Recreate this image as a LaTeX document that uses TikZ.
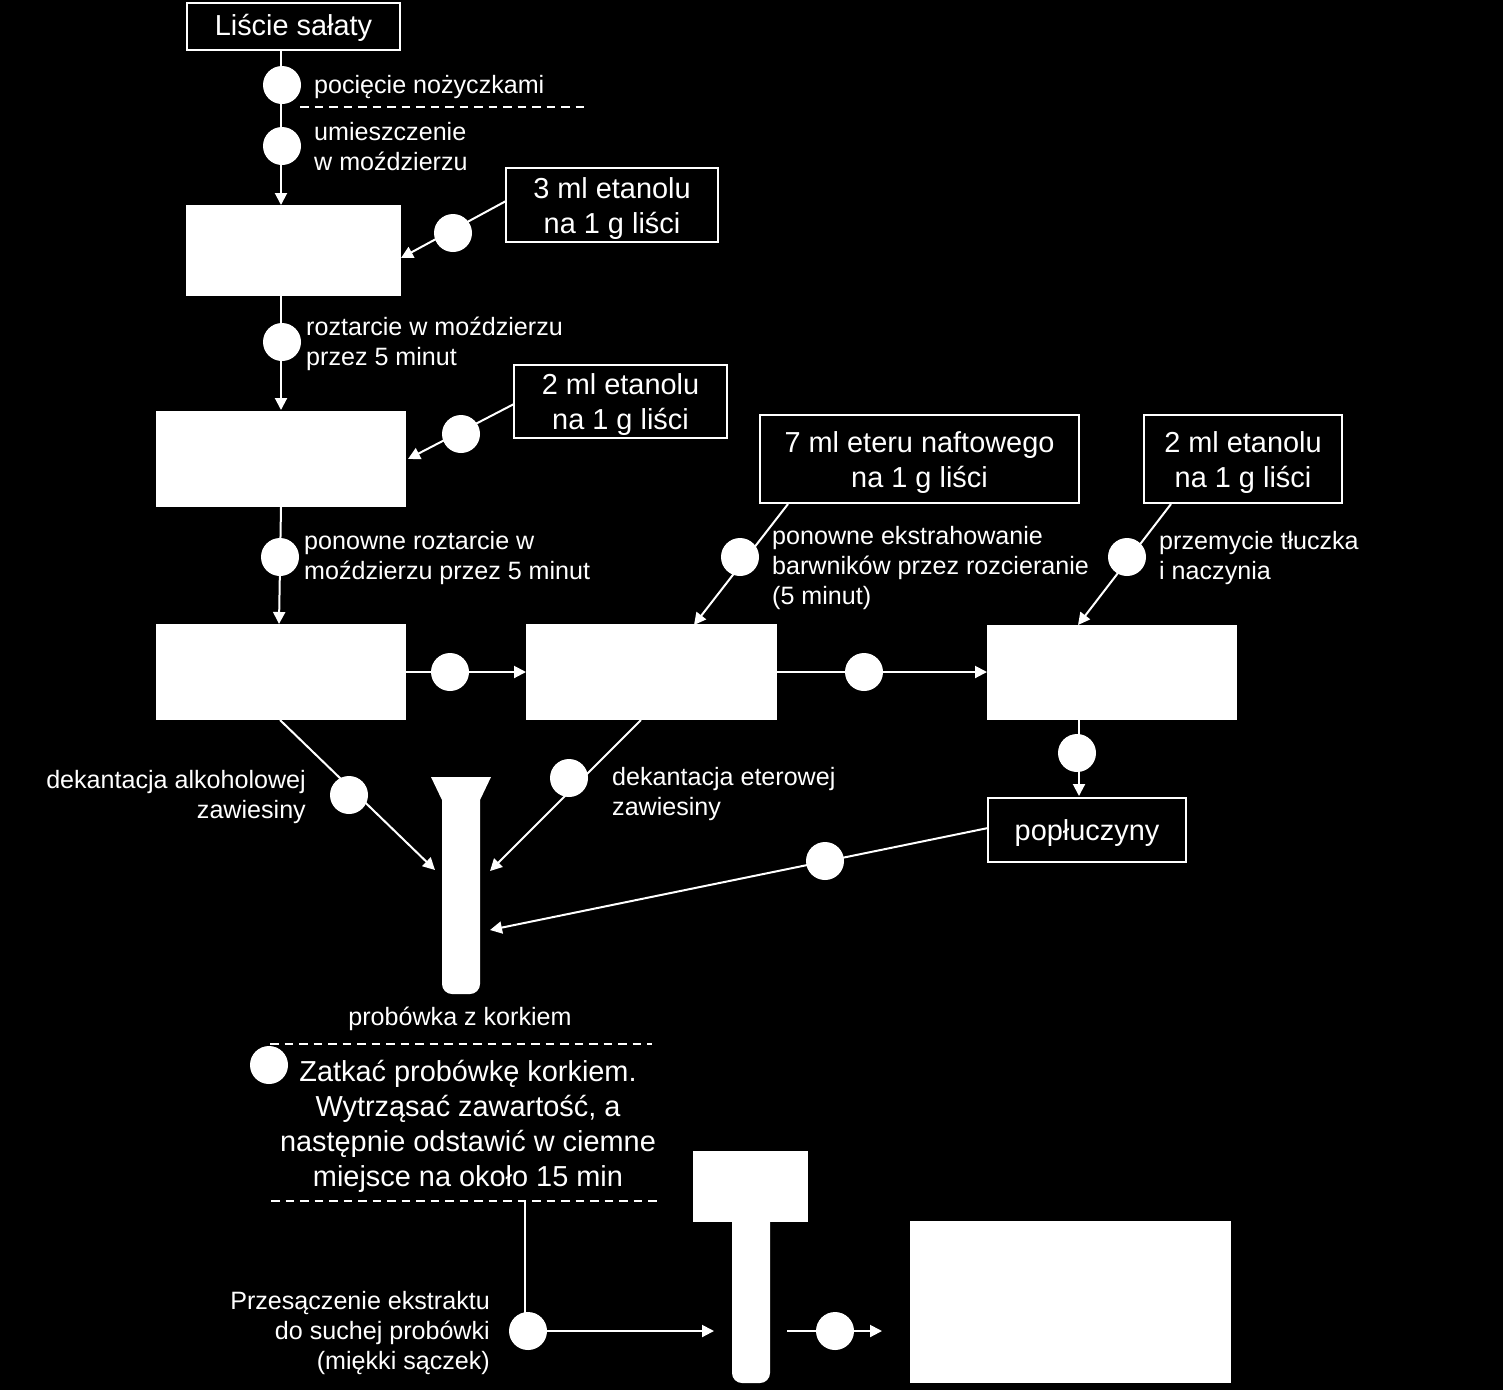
\documentclass[tikz,border=0pt]{standalone}
\usepackage{fontspec}
\setmainfont{Liberation Sans}
\usetikzlibrary{arrows.meta,calc}
\tikzset{
  lab/.style={text=white,font=\fontsize{25.1}{30}\selectfont,inner sep=0pt,align=left,anchor=west,yshift=-2pt},
  labr/.style={lab,align=right,anchor=east},
  labc/.style={lab,align=center,anchor=center},
  big/.style={text=white,font=\fontsize{28.9}{35}\selectfont,inner sep=0pt,align=center},
  obox/.style={draw=white,line width=2pt,fill=black,minimum width=#1,inner sep=0pt},
  boxtext/.style={big,yshift=-3.5pt},
  wbox/.style={fill=white,inner sep=0pt},
  dot/.style={circle,fill=white,minimum size=38pt,inner sep=0pt},
  conn/.style={draw=white,line width=2pt},
  arr/.style={conn,-{Triangle[length=12pt,width=12pt]}},
  sep/.style={draw=white,line width=2pt,dash pattern=on 8.5pt off 6pt},
}
\newcommand{\boxat}[6]{\node[#1,minimum width=#4pt-#2pt,minimum height=#5pt-#3pt] (#6) at ({(#2+#4)/2},{(#3+#5)/2}) {};}
\begin{document}
\begin{tikzpicture}[x=1pt,y=-1pt]
\fill[black] (0,0) rectangle (1503,1390);
\useasboundingbox (0,0) rectangle (1503,1390);
% white boxes
\boxat{wbox}{186}{205}{401}{296}{w1}
\boxat{wbox}{156}{411}{406}{507}{w2}
\boxat{wbox}{156}{624}{406}{720}{w3}
\boxat{wbox}{526}{624}{777}{720}{w4}
\boxat{wbox}{987}{625}{1237}{720}{w5}
\boxat{wbox}{693}{1151}{808}{1222}{w6}
\boxat{wbox}{910}{1221}{1231}{1383}{w7}
% outlined boxes
\node[obox=213pt,minimum height=47pt] (liscie) at (293.5,26.5) {};
\node[boxtext,yshift=2.5pt] (tliscie) at (293.5,26.5) {Liście sałaty};
\node[obox=212pt,minimum height=74pt] (e3) at (612,205) {};
\node[boxtext] (te3) at (612,205) {3 ml etanolu\\na 1 g liści};
\node[obox=213pt,minimum height=73pt] (e2) at (620.5,401.5) {};
\node[boxtext] (te2) at (620.5,401.5) {2 ml etanolu\\na 1 g liści};
\node[obox=319pt,minimum height=88pt] (eter) at (919.5,459) {};
\node[boxtext] (teter) at (919.5,459) {7 ml eteru naftowego\\na 1 g liści};
\node[obox=198pt,minimum height=88pt] (e2b) at (1243,459) {};
\node[boxtext] (te2b) at (1243,459) {2 ml etanolu\\na 1 g liści};
\node[obox=198pt,minimum height=64pt] (pop) at (1087,830) {};
\node[boxtext] (tpop) at (1087,830) {popłuczyny};
% test tubes
\path[fill=white] (431,777) -- (491,777) -- (480,800) -- (480,984) arc[start angle=0,end angle=90,radius=10] -- (452,994) arc[start angle=90,end angle=180,radius=10] -- (442,800) -- cycle;
\node[inner sep=0pt,minimum width=38pt,minimum height=140pt] (tube1) at (461,880) {};
\path[fill=white] (732,1220) -- (770,1220) -- (770,1373) arc[start angle=0,end angle=90,radius=10] -- (742,1383) arc[start angle=90,end angle=180,radius=10] -- cycle;
\node[inner sep=0pt,minimum width=38pt,minimum height=160pt] (tube2) at (751,1302) {};
% circles
\foreach \n/\x/\y in {c1/282/85,c2/282/146,c3/453/233,c4/282/342,c5/461/434,c6/280/557,c7/740/557,c8/1127/557,c9/450/672,c10/864/672,c11/1077/753,c12/349/795,c13/569/778,c14/825/861,c15/269/1065,c16/528/1331,c17/835/1331}
  \node[dot] (\n) at (\x,\y) {};
% coordinates for connector free ends and off-centre landings
\coordinate (a1) at (281,50);
\coordinate (a2) at (281,205);
\coordinate (b1) at (506,201);
\coordinate (b2) at (401,258);
\coordinate (d1) at (281,296);
\coordinate (d2) at (281,410);
\coordinate (f1) at (514,404);
\coordinate (f2) at (408,459);
\coordinate (g1) at (281,507);
\coordinate (g2) at (279,624);
\coordinate (h1) at (788,504);
\coordinate (h2) at (694,625);
\coordinate (i1) at (1171,504);
\coordinate (i2) at (1078,625);
\coordinate (j1) at (406,672);
\coordinate (j2) at (526,672);
\coordinate (j3) at (777,672);
\coordinate (j4) at (987,672);
\coordinate (k1) at (1079,720);
\coordinate (k2) at (1079,796);
\coordinate (l1) at (280,720);
\coordinate (l2) at (435,870);
\coordinate (m1) at (641,720);
\coordinate (m2) at (490,871);
\coordinate (n1) at (988,828);
\coordinate (n2) at (490,930);
\coordinate (o1) at (525,1201);
\coordinate (o2) at (525,1313);
\coordinate (o3) at (714,1331);
\coordinate (p1) at (787,1331);
\coordinate (p2) at (882,1331);
% connectors
\draw[arr] (a1) -- (a2);
\draw[arr] (b1) -- (b2);
\draw[arr] (d1) -- (d2);
\draw[arr] (f1) -- (f2);
\draw[arr] (g1) -- (g2);
\draw[arr] (h1) -- (h2);
\draw[arr] (i1) -- (i2);
\draw[arr] (j1) -- (j2);
\draw[arr] (j3) -- (j4);
\draw[arr] (k1) -- (k2);
\draw[arr] (l1) -- (l2);
\draw[arr] (m1) -- (m2);
\draw[arr] (n1) -- (n2);
\draw[conn] (o1) -- (o2);
\draw[arr] (c16) -- (o3);
\draw[arr] (p1) -- (p2);
% dashed separators
\coordinate (s1a) at (300,107); \coordinate (s1b) at (586,107);
\coordinate (s2a) at (270,1044); \coordinate (s2b) at (652,1044);
\coordinate (s3a) at (271,1201); \coordinate (s3b) at (657,1201);
\draw[sep] (s1a) -- (s1b);
\draw[sep] (s2a) -- (s2b);
\draw[sep] (s3a) -- (s3b);
% labels
\node[lab] (t1) at (314,85) {pocięcie nożyczkami};
\node[lab] (t2) at (314,144.5) {umieszczenie\\w moździerzu};
\node[lab] (t3) at (306,342) {roztarcie w moździerzu\\przez 5 minut};
\node[lab] (t4) at (304,556) {ponowne roztarcie w\\moździerzu przez 5 minut};
\node[lab] (t5) at (772,566) {ponowne ekstrahowanie\\barwników przez rozcieranie\\(5 minut)};
\node[lab] (t6) at (1159,556) {przemycie tłuczka\\i naczynia};
\node[labr] (t7) at (306,795) {dekantacja alkoholowej\\zawiesiny};
\node[lab] (t8) at (612,792) {dekantacja eterowej\\zawiesiny};
\node[labc] (t9) at (460,1017) {probówka z korkiem};
\node[big,yshift=-2pt] (t10) at (468,1124) {Zatkać probówkę korkiem.\\Wytrząsać zawartość, a\\następnie odstawić w ciemne\\miejsce na około 15 min};
\node[labr] (t11) at (490,1331) {Przesączenie ekstraktu\\do suchej probówki\\(miękki sączek)};
\end{tikzpicture}
\end{document}
